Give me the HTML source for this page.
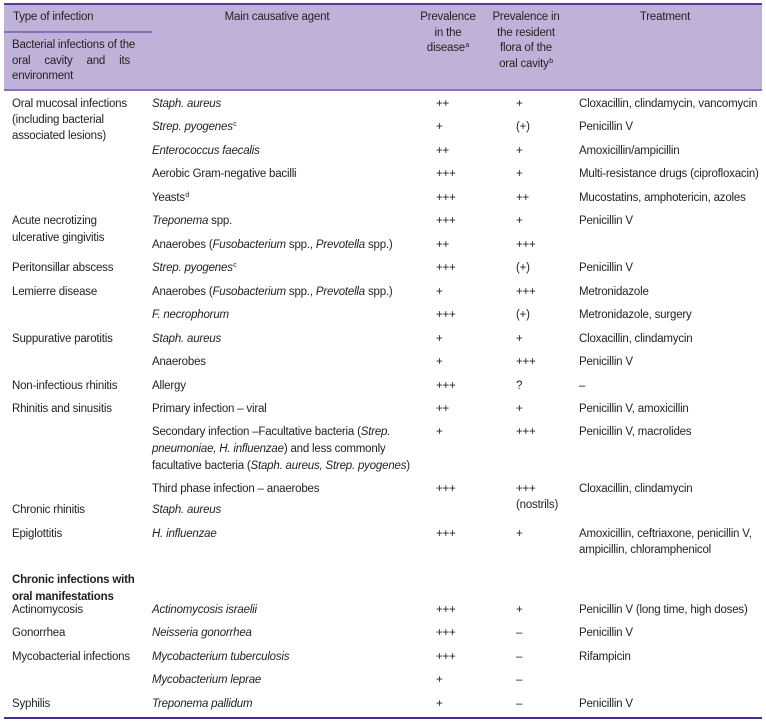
<!DOCTYPE html>
<html>
<head>
<meta charset="utf-8">
<style>
  html,body{margin:0;padding:0;background:#fff;}
  body{width:766px;height:725px;position:relative;overflow:hidden;
       font-family:"Liberation Sans",Arial,sans-serif;font-size:11.5px;letter-spacing:-0.2px;color:#231f20;}
  .bg{position:absolute;left:4px;top:4px;width:758px;height:86px;background:#c0b1d8;}
  .ln{position:absolute;}
  .t{position:absolute;white-space:nowrap;line-height:15.5px;}
  .r{position:absolute;left:0;width:766px;height:16px;}
  .r span{position:absolute;top:0;white-space:nowrap;line-height:16px;}
  .r span sup, .t sup{position:relative;}
  .c1{left:12px}.c2{left:152px}.c3{left:436px}.c4{left:516px}.c5{left:579px}
  sup{font-size:7px;line-height:0;vertical-align:baseline;position:relative;top:-4px;margin-left:0.5px;}
  i{font-style:italic;}
  b{font-weight:bold;}
</style>
</head>
<body>
<div class="bg"></div>
<div class="ln" style="left:4px;top:3px;width:758px;height:2px;background:#5a3b97;"></div>
<div class="ln" style="left:4px;top:31px;width:148px;height:1.5px;background:#8a6fc0;"></div>
<div class="ln" style="left:4px;top:89px;width:758px;height:2px;background:#8a6dc0;"></div>
<div class="ln" style="left:4px;top:717px;width:758px;height:2px;background:#4b2a8c;"></div>

<!-- header -->
<div class="t" style="left:13px;top:10px;">Type of infection</div>
<div class="t" style="left:12px;top:38px;">Bacterial infections of the</div>
<div class="t" style="left:12px;top:53.5px;width:118px;text-align:justify;text-align-last:justify;">oral cavity and its</div>
<div class="t" style="left:12px;top:69px;">environment</div>
<div class="t" style="left:177px;top:10px;width:200px;text-align:center;">Main causative agent</div>
<div class="t" style="left:398px;top:10px;width:100px;text-align:center;">Prevalence<br>in the<br>disease<sup>a</sup></div>
<div class="t" style="left:476px;top:10px;width:100px;text-align:center;">Prevalence in<br>the resident<br>flora of the<br>oral cavity<sup>b</sup></div>
<div class="t" style="left:615px;top:10px;width:100px;text-align:center;">Treatment</div>

<!-- body -->
<div class="r" style="top:95.5px"><span class="c1" style="line-height:16.2px">Oral mucosal infections<br>(including bacterial<br>associated lesions)</span><span class="c2"><i>Staph. aureus</i></span><span class="c3">++</span><span class="c4">+</span><span class="c5">Cloxacillin, clindamycin, vancomycin</span></div>
<div class="r" style="top:119px"><span class="c2"><i>Strep. pyogenes</i><sup>c</sup></span><span class="c3">+</span><span class="c4">(+)</span><span class="c5">Penicillin V</span></div>
<div class="r" style="top:142.5px"><span class="c2"><i>Enterococcus faecalis</i></span><span class="c3">++</span><span class="c4">+</span><span class="c5">Amoxicillin/ampicillin</span></div>
<div class="r" style="top:166px"><span class="c2">Aerobic Gram-negative bacilli</span><span class="c3">+++</span><span class="c4">+</span><span class="c5">Multi-resistance drugs (ciprofloxacin)</span></div>
<div class="r" style="top:189.5px"><span class="c2">Yeasts<sup>d</sup></span><span class="c3">+++</span><span class="c4">++</span><span class="c5">Mucostatins, amphotericin, azoles</span></div>
<div class="r" style="top:213px"><span class="c1" style="line-height:16.5px">Acute necrotizing<br>ulcerative gingivitis</span><span class="c2"><i>Treponema</i> spp.</span><span class="c3">+++</span><span class="c4">+</span><span class="c5">Penicillin V</span></div>
<div class="r" style="top:236.5px"><span class="c2">Anaerobes (<i>Fusobacterium</i> spp., <i>Prevotella</i> spp.)</span><span class="c3">++</span><span class="c4">+++</span></div>
<div class="r" style="top:260px"><span class="c1">Peritonsillar abscess</span><span class="c2"><i>Strep. pyogenes</i><sup>c</sup></span><span class="c3">+++</span><span class="c4">(+)</span><span class="c5">Penicillin V</span></div>
<div class="r" style="top:283.5px"><span class="c1">Lemierre disease</span><span class="c2">Anaerobes (<i>Fusobacterium</i> spp., <i>Prevotella</i> spp.)</span><span class="c3">+</span><span class="c4">+++</span><span class="c5">Metronidazole</span></div>
<div class="r" style="top:307px"><span class="c2"><i>F. necrophorum</i></span><span class="c3">+++</span><span class="c4">(+)</span><span class="c5">Metronidazole, surgery</span></div>
<div class="r" style="top:330.5px"><span class="c1">Suppurative parotitis</span><span class="c2"><i>Staph. aureus</i></span><span class="c3">+</span><span class="c4">+</span><span class="c5">Cloxacillin, clindamycin</span></div>
<div class="r" style="top:354px"><span class="c2">Anaerobes</span><span class="c3">+</span><span class="c4">+++</span><span class="c5">Penicillin V</span></div>
<div class="r" style="top:377.5px"><span class="c1">Non-infectious rhinitis</span><span class="c2">Allergy</span><span class="c3">+++</span><span class="c4">?</span><span class="c5">–</span></div>
<div class="r" style="top:401px"><span class="c1">Rhinitis and sinusitis</span><span class="c2">Primary infection – viral</span><span class="c3">++</span><span class="c4">+</span><span class="c5">Penicillin V, amoxicillin</span></div>
<div class="r" style="top:424px"><span class="c2" style="line-height:16.8px">Secondary infection –Facultative bacteria (<i>Strep.</i><br><i>pneumoniae, H. influenzae</i>) and less commonly<br>facultative bacteria (<i>Staph. aureus, Strep. pyogenes</i>)</span><span class="c3">+</span><span class="c4">+++</span><span class="c5">Penicillin V, macrolides</span></div>
<div class="r" style="top:480.5px"><span class="c2">Third phase infection – anaerobes</span><span class="c3">+++</span><span class="c4" style="line-height:16.5px">+++<br>(nostrils)</span><span class="c5">Cloxacillin, clindamycin</span></div>
<div class="r" style="top:501.5px"><span class="c1">Chronic rhinitis</span><span class="c2"><i>Staph. aureus</i></span></div>
<div class="r" style="top:525.5px"><span class="c1">Epiglottitis</span><span class="c2"><i>H. influenzae</i></span><span class="c3">+++</span><span class="c4">+</span><span class="c5" style="line-height:16.5px">Amoxicillin, ceftriaxone, penicillin V,<br>ampicillin, chloramphenicol</span></div>
<div class="r" style="top:572px"><span class="c1" style="line-height:17px"><b>Chronic infections with<br>oral manifestations</b></span></div>
<div class="r" style="top:601.5px"><span class="c1">Actinomycosis</span><span class="c2"><i>Actinomycosis israelii</i></span><span class="c3">+++</span><span class="c4">+</span><span class="c5">Penicillin V (long time, high doses)</span></div>
<div class="r" style="top:625px"><span class="c1">Gonorrhea</span><span class="c2"><i>Neisseria gonorrhea</i></span><span class="c3">+++</span><span class="c4">–</span><span class="c5">Penicillin V</span></div>
<div class="r" style="top:648.5px"><span class="c1">Mycobacterial infections</span><span class="c2"><i>Mycobacterium tuberculosis</i></span><span class="c3">+++</span><span class="c4">–</span><span class="c5">Rifampicin</span></div>
<div class="r" style="top:672px"><span class="c2"><i>Mycobacterium leprae</i></span><span class="c3">+</span><span class="c4">–</span></div>
<div class="r" style="top:695.5px"><span class="c1">Syphilis</span><span class="c2"><i>Treponema pallidum</i></span><span class="c3">+</span><span class="c4">–</span><span class="c5">Penicillin V</span></div>
</body>
</html>
